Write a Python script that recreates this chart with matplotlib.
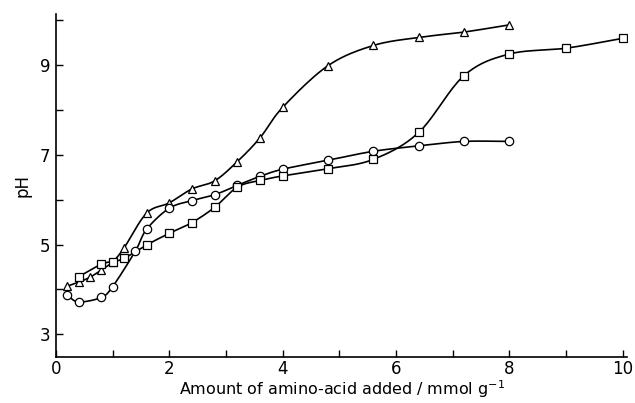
import numpy as np
import matplotlib
matplotlib.use("Agg")
import matplotlib.pyplot as plt

# amount of amino-acid added (mmol/g) and pH
tri_x = [0.2, 0.4, 0.6, 0.8, 1.0, 1.2, 1.6, 2.0, 2.4, 2.8, 3.2, 3.6, 4.0, 4.8, 5.6, 6.4, 7.2, 8.0]
tri_ph = [4.07, 4.16, 4.27, 4.43, 4.61, 4.92, 5.70, 5.93, 6.24, 6.42, 6.85, 7.38, 8.06, 8.99, 9.44, 9.62, 9.74, 9.90]

circ_x = [0.2, 0.4, 0.8, 1.0, 1.4, 1.6, 2.0, 2.4, 2.8, 3.2, 3.6, 4.0, 4.8, 5.6, 6.4, 7.2, 8.0]
circ_ph = [3.87, 3.72, 3.82, 4.06, 4.85, 5.34, 5.81, 5.98, 6.11, 6.32, 6.52, 6.68, 6.88, 7.08, 7.20, 7.30, 7.30]

sq_x = [0.4, 0.8, 1.0, 1.2, 1.6, 2.0, 2.4, 2.8, 3.2, 3.6, 4.0, 4.8, 5.6, 6.4, 7.2, 8.0, 9.0, 10.0]
sq_ph = [4.28, 4.56, 4.62, 4.69, 4.99, 5.25, 5.49, 5.83, 6.28, 6.43, 6.53, 6.69, 6.90, 7.50, 8.77, 9.25, 9.38, 9.60]

x_ticks = [0, 2, 4, 6, 8, 10]
y_ticks = [3, 5, 7, 9]


def smooth(xs, ys, n=20):
    # Catmull-Rom curve through the points, for drawing only
    p = np.column_stack([xs, ys]).astype(float)
    p = np.vstack([2 * p[0] - p[1], p, 2 * p[-1] - p[-2]])
    t = np.linspace(0, 1, n, endpoint=False)[:, None]
    out = []
    for i in range(1, len(p) - 2):
        p0, p1, p2, p3 = p[i - 1], p[i], p[i + 1], p[i + 2]
        seg = 0.5 * ((2 * p1) + (-p0 + p2) * t + (2 * p0 - 5 * p1 + 4 * p2 - p3) * t ** 2
                     + (-p0 + 3 * p1 - 3 * p2 + p3) * t ** 3)
        out.append(seg)
    out.append(p[-2][None, :])
    out = np.vstack(out)
    return out[:, 0], out[:, 1]


fig = plt.figure(figsize=(6.35, 4.03), dpi=100)
ax = fig.add_axes([0.088, 0.114, 0.90, 0.851])

for xs, ys, m in [(tri_x, tri_ph, '^'), (circ_x, circ_ph, 'o'), (sq_x, sq_ph, 's')]:
    sx, sy = smooth(xs, ys)
    ax.plot(sx, sy, color='black', lw=1.2, zorder=2)
    ax.plot(xs, ys, ls='none', marker=m, ms=6 if m != 's' else 5.5, mfc='white',
            mec='black', mew=0.9, zorder=3)

ax.set_xlim(0, 10.08)
ax.set_ylim(2.49, 10.14)
ax.set_xticks(np.arange(0, 11, 1))
ax.set_xticklabels([str(v) if v in x_ticks else '' for v in range(11)])
ax.set_yticks(np.arange(3, 11, 1))
ax.set_yticklabels([str(v) if v in y_ticks else '' for v in range(3, 11)])
ax.tick_params(direction='in', length=5, width=1, labelsize=12)
ax.tick_params(axis='x', pad=2)
ax.tick_params(axis='y', pad=4)
ax.spines['top'].set_visible(False)
ax.spines['right'].set_visible(False)
ax.spines['left'].set_linewidth(1.2)
ax.spines['bottom'].set_linewidth(1.2)

ax.set_xlabel('Amount of amino-acid added / mmol g$^{-1}$', fontsize=11.5, labelpad=0)
ax.set_ylabel('pH', fontsize=12, labelpad=6)

fig.savefig('out.png', dpi=100)
